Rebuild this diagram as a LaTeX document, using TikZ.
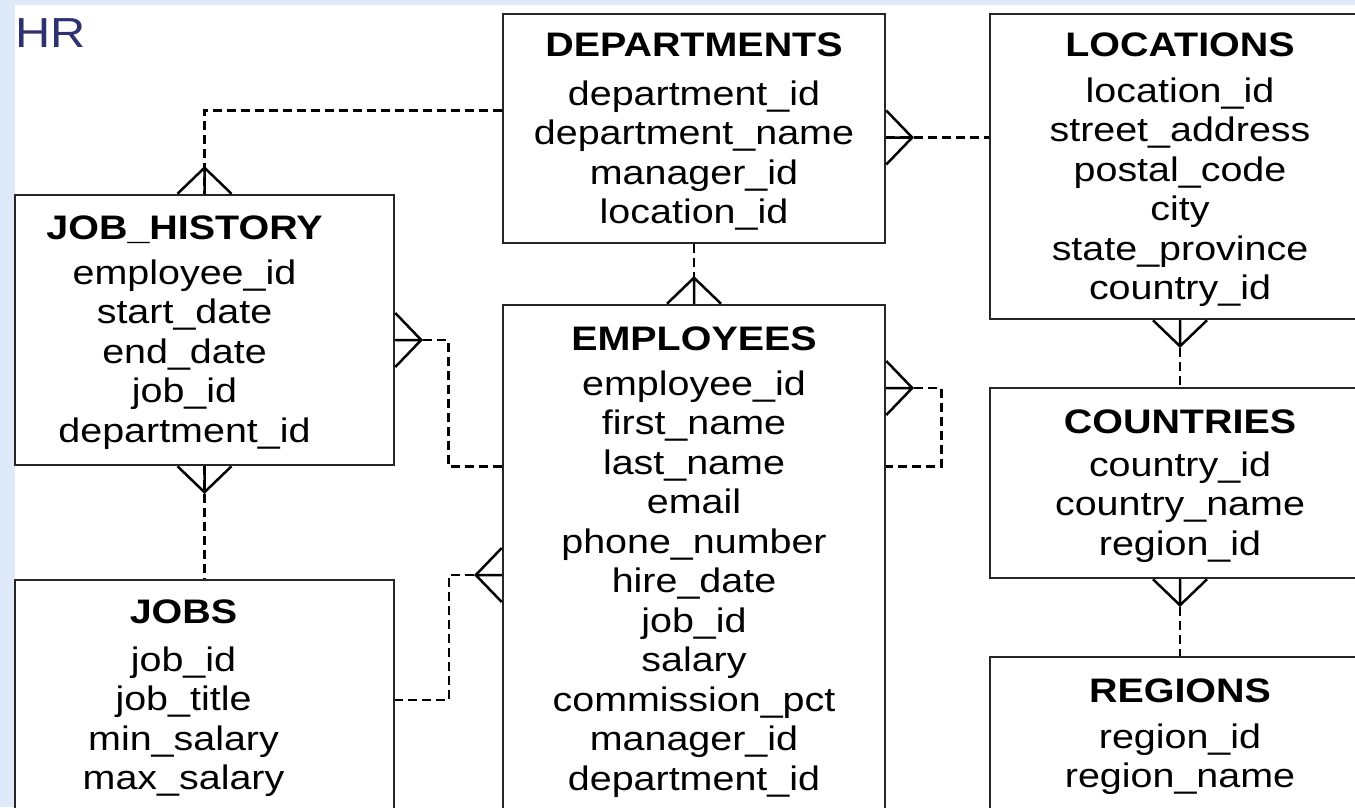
\documentclass[tikz,border=0pt]{standalone}
\usepackage{fontspec}
\setmainfont{Liberation Sans}[FakeStretch=1.16]
\usetikzlibrary{positioning}
\usetikzlibrary{calc}

\definecolor{hrblue}{RGB}{46,49,112}
\definecolor{edgeblue}{RGB}{222,234,249}

\begin{document}
\begin{tikzpicture}[x=1pt, y=-1pt, line join=miter,
tbl/.style ={rectangle, draw=black!85, line width=2.5pt, inner sep=0pt},
fields/.style ={align=center, inner sep=0pt, font=\fontsize{34}{39.5}\selectfont},
rel/.style ={draw=black, line width=2.5pt, dash pattern=on 9pt off 5pt},
foot/.style ={draw=black, line width=2.5pt},
crow/.pic ={\draw[foot] (-27,0) -- (0,-26) -- (27,0) (0,0) -- (0,-26);}]
\useasboundingbox (0,0) rectangle (1355,807);
\clip (0,0) rectangle (1355,807);
\fill[edgeblue] (0,0) rectangle (1355,807);
\fill[white] (15,5) rectangle (1355,807);
\node[anchor=north west, inner sep=0pt, text=hrblue, font=\fontsize{42}{42}\selectfont] (hr) at (15,18) {HR};

% tables
\node[tbl, minimum width=382, minimum height=229] (dept) at (694,128.5) {};
\node[tbl, minimum width=380, minimum height=305] (loc) at (1180,166.5) {};
\node[tbl, minimum width=380, minimum height=190] (ctry) at (1180,483) {};
\node[tbl, minimum width=380, minimum height=180] (reg) at (1180,747) {};
\node[tbl, minimum width=379, minimum height=270] (jh) at (204.5,330) {};
\node[tbl, minimum width=379, minimum height=250] (jobs) at (204.5,705) {};
\node[tbl, minimum width=382, minimum height=530] (emp) at (694,570) {};

\node[fields] (dept text) [below =20pt of dept.north] {\textbf{DEPARTMENTS}\\[9pt]
department\_id\\department\_name\\manager\_id\\location\_id};
\node[fields] (loc text) [below =20pt of loc.north] {\textbf{LOCATIONS}\\[6pt]
location\_id\\street\_address\\postal\_code\\city\\state\_province\\country\_id};
\node[fields] (ctry text) [below =23pt of ctry.north] {\textbf{COUNTRIES}\\[3pt]
country\_id\\country\_name\\region\_id};
\node[fields] (reg text) [below =23pt of reg.north] {\textbf{REGIONS}\\[6pt]
region\_id\\region\_name};
\node[fields, xshift=-20pt] (jh text) [below =22pt of jh.north] {\textbf{JOB\_HISTORY}\\[5pt]
employee\_id\\start\_date\\end\_date\\job\_id\\department\_id};
\node[fields, xshift=-21pt] (jobs text) [below =21pt of jobs.north] {\textbf{JOBS}\\[8pt]
job\_id\\job\_title\\min\_salary\\max\_salary};
\node[fields] (emp text) [below =23pt of emp.north] {\textbf{EMPLOYEES}\\[5pt]
employee\_id\\first\_name\\last\_name\\email\\phone\_number\\hire\_date\\job\_id\\salary\\commission\_pct\\manager\_id\\department\_id};

% relationships
\coordinate (dept left) at ([yshift=18pt]dept.west);
\coordinate (dept right) at ([yshift=-9pt]dept.east);
\coordinate (jh right) at ([yshift=-10pt]jh.east);
\coordinate (emp left) at ([yshift=-5pt]emp.west);
\coordinate (emp right) at ([yshift=182pt]emp.east);

\draw[rel] (dept left) -| (jh.north);
\draw[rel] (dept right) -- (dept right -| loc.west);
\draw[rel] (dept.south) -- (emp.north);
\draw[rel] (loc.south) -- (ctry.north);
\draw[rel] (ctry.south) -- (reg.north);
\draw[rel] (jh right) -- ++(53,0) |- (jh.south -| emp.west);
\draw[rel] (jh.south) -- (jobs.north);
\draw[rel] (emp left) -- ++(-53,0) |- ([yshift=5pt]jobs.east);
\draw[rel] (emp right) -- ++(55,0) |- (emp.east |- jh.south);

% crow's feet
\pic at (jh.north) {crow};
\pic[rotate=-90] at (dept right) {crow};
\pic at (emp.north) {crow};
\pic[rotate=180] at (loc.south) {crow};
\pic[rotate=180] at (ctry.south) {crow};
\pic[rotate=-90] at (jh right) {crow};
\pic[rotate=180] at (jh.south) {crow};
\pic[rotate=90] at (emp left) {crow};
\pic[rotate=-90] at (emp right) {crow};
\end{tikzpicture}
\end{document}
